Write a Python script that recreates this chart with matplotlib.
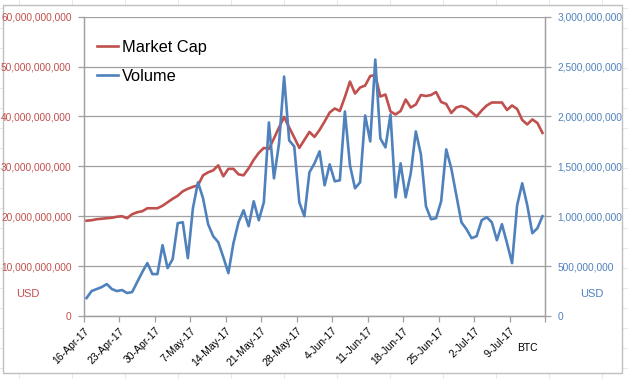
import matplotlib
matplotlib.use("Agg")
import matplotlib.pyplot as plt
from matplotlib.ticker import FuncFormatter
from matplotlib.lines import Line2D
from matplotlib.patches import Rectangle
import pandas as pd
import numpy as np

# ---- data (USD billions) ----
start_date = "2017-04-16"
market_cap_bn = [
    19.1, 19.2, 19.4, 19.5, 19.6, 19.7, 19.9, 20.0, 19.6, 20.4,
    20.8, 21.0, 21.6, 21.6, 21.6, 22.1, 22.8, 23.5, 24.1, 25.0,
    25.5, 25.9, 26.2, 28.2, 28.8, 29.2, 30.2, 28.0, 29.5, 29.5,
    28.4, 28.2, 29.6, 31.3, 32.7, 33.7, 33.5, 35.6, 37.8, 39.9,
    37.8, 35.8, 33.7, 35.3, 36.9, 35.9, 37.3, 39.0, 40.8, 41.6,
    41.1, 43.9, 47.0, 44.6, 45.8, 46.2, 48.1, 48.3, 44.0, 44.4,
    41.0, 40.4, 41.1, 43.4, 41.8, 42.4, 44.3, 44.1, 44.3, 44.9,
    42.9, 42.5, 40.7, 41.8, 42.1, 41.7, 40.9, 40.0, 41.2, 42.2,
    42.8, 42.8, 42.8, 41.3, 42.2, 41.5, 39.3, 38.4, 39.4, 38.7,
    36.7,
]
volume_bn = [
    0.18, 0.25, 0.27, 0.29, 0.32, 0.27, 0.25, 0.26, 0.23, 0.24,
    0.34, 0.44, 0.53, 0.42, 0.42, 0.71, 0.48, 0.57, 0.93, 0.94,
    0.58, 1.08, 1.34, 1.18, 0.92, 0.80, 0.74, 0.59, 0.43, 0.73,
    0.94, 1.06, 0.90, 1.15, 0.96, 1.14, 1.94, 1.38, 1.73, 2.40,
    1.76, 1.70, 1.14, 1.00, 1.44, 1.53, 1.65, 1.31, 1.52, 1.35,
    1.36, 2.05, 1.51, 1.28, 1.34, 2.01, 1.75, 2.57, 1.78, 1.69,
    2.02, 1.19, 1.53, 1.19, 1.43, 1.85, 1.62, 1.10, 0.97, 0.98,
    1.15, 1.67, 1.48, 1.21, 0.94, 0.87, 0.78, 0.80, 0.96, 0.99,
    0.94, 0.76, 0.92, 0.73, 0.53, 1.11, 1.33, 1.11, 0.83, 0.88,
    1.00,
]
series_labels = ["Market Cap", "Volume"]
left_ticks = [0, 10e9, 20e9, 30e9, 40e9, 50e9, 60e9]
right_ticks = [0, 0.5e9, 1.0e9, 1.5e9, 2.0e9, 2.5e9, 3.0e9]
xtick_dates = ["2017-04-16", "2017-04-23", "2017-04-30", "2017-05-07", "2017-05-14",
               "2017-05-21", "2017-05-28", "2017-06-04", "2017-06-11", "2017-06-18",
               "2017-06-25", "2017-07-02", "2017-07-09", "2017-07-16"]
xtick_labels = ["16-Apr-17", "23-Apr-17", "30-Apr-17", "7-May-17", "14-May-17",
                "21-May-17", "28-May-17", "4-Jun-17", "11-Jun-17", "18-Jun-17",
                "25-Jun-17", "2-Jul-17", "9-Jul-17", ""]

RED = "#C0504D"
BLUE = "#4F81BD"
GRID = "#A0A0A0"
FONT = "Liberation Sans"

plt.rcParams["font.family"] = [FONT, "DejaVu Sans"]

dates = pd.date_range(start_date, periods=len(market_cap_bn), freq="D") + pd.Timedelta(hours=12)
mc = np.array(market_cap_bn) * 1e9
vol = np.array(volume_bn) * 1e9

fig = plt.figure(figsize=(6.28, 3.79), dpi=100)
W, H = 628, 379

# faint spreadsheet background grid
for xv in np.arange(19, 628, 53):
    fig.add_artist(Line2D([xv / W, xv / W], [0, 1], color="#E4E4E4", lw=0.6, zorder=-3))
for yv in np.arange(8, 379, 20):
    fig.add_artist(Line2D([0, 1], [1 - yv / H, 1 - yv / H], color="#E4E4E4", lw=0.6, zorder=-3))
# chart area
fig.add_artist(Rectangle((3 / W, 1 - 373 / H), (622 - 3) / W, (373 - 5) / H,
                         facecolor="white", edgecolor="#BFBFBF", lw=1.0, zorder=-2))

ax = fig.add_axes([84 / W, 1 - 316 / H, (545 - 84) / W, (316 - 16.7) / H])
ax.set_facecolor("none")
ax2 = ax.twinx()

ax.plot(dates, mc, color=RED, lw=1.9, solid_joinstyle="round", zorder=3)
ax2.plot(dates, vol, color=BLUE, lw=1.9, solid_joinstyle="round", zorder=3)

x0 = pd.Timestamp("2017-04-16")
x1 = pd.Timestamp("2017-07-16")
ax.set_xlim(x0, x1)
ax.set_ylim(0, 60e9)
ax2.set_ylim(0, 3e9)

ax.set_yticks(left_ticks)
ax2.set_yticks(right_ticks)
fmt = FuncFormatter(lambda v, p: f"{v:,.0f}")
ax.yaxis.set_major_formatter(fmt)
ax2.yaxis.set_major_formatter(fmt)

ax.set_xticks([pd.Timestamp(d) for d in xtick_dates])
ax.set_xticklabels(xtick_labels, rotation=45, ha="right", va="top",
                   rotation_mode="anchor", fontsize=7.5, color="black")

ax.yaxis.grid(True, color=GRID, lw=0.9, zorder=0)
ax.set_axisbelow(True)

for a in (ax, ax2):
    for s in a.spines.values():
        s.set_color(GRID)
        s.set_linewidth(0.9)
ax.spines["top"].set_visible(False)
ax2.spines["top"].set_visible(False)

ax.tick_params(axis="y", colors=GRID, labelcolor=RED, labelsize=7.3, length=4, width=0.9, pad=5)
ax2.tick_params(axis="y", colors=GRID, labelcolor=BLUE, labelsize=7.3, length=4, width=0.9, pad=5)
ax.tick_params(axis="x", colors=GRID, labelcolor="black", length=4, width=0.9, pad=3)

# axis unit labels
fig.text(28 / W, 1 - 294 / H, "USD", color=RED, fontsize=8, ha="center", va="center")
fig.text(592 / W, 1 - 294 / H, "USD", color=BLUE, fontsize=8, ha="center", va="center")
fig.text(527 / W, 1 - 348 / H, "BTC", color="black", fontsize=7.5, ha="center", va="center")

handles = [Line2D([], [], color=RED, lw=1.9), Line2D([], [], color=BLUE, lw=1.9)]
ax.legend(handles, series_labels, loc="upper left", bbox_to_anchor=(97 / W, 1 - 40 / H),
          bbox_transform=fig.transFigure, frameon=False, fontsize=11.8,
          handlelength=1.3, handletextpad=0.2, labelspacing=0.85, borderpad=0, borderaxespad=0)

fig.savefig("out.png", dpi=100)
